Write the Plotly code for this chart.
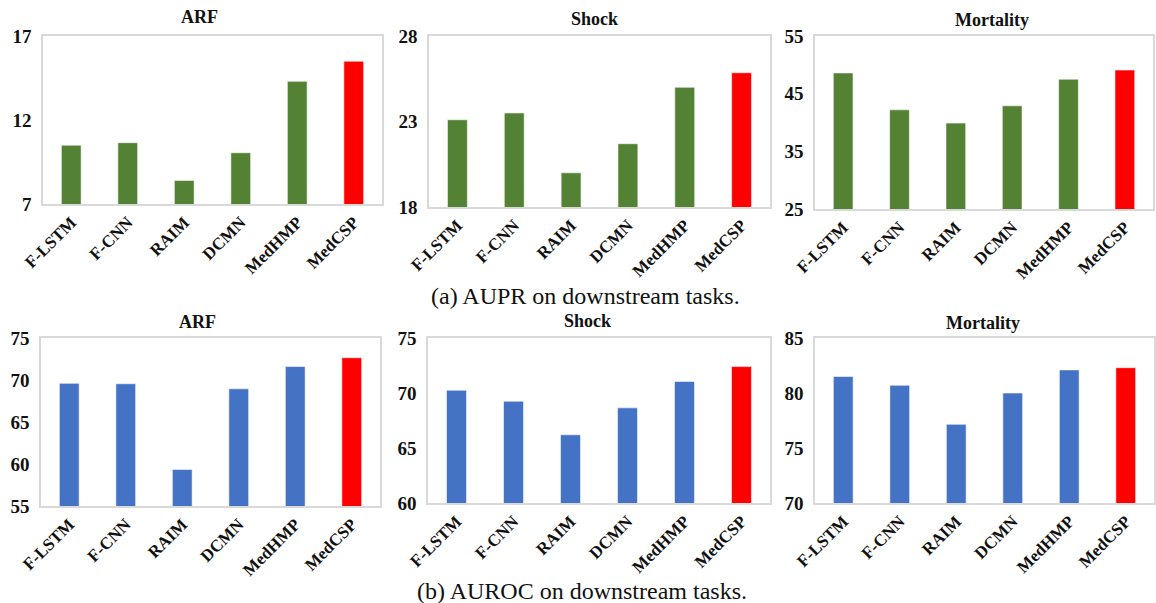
import plotly.graph_objects as go

methods = ["F-LSTM", "F-CNN", "RAIM", "DCMN", "MedHMP", "MedCSP"]

aupr_arf = [10.5, 10.65, 8.4, 10.05, 14.3, 15.5]
aupr_shock = [23.1, 23.5, 20.0, 21.7, 25.0, 25.85]
aupr_mort = [48.6, 42.2, 39.9, 42.9, 47.5, 49.1]

auroc_arf = [69.6, 69.55, 59.35, 68.95, 71.6, 72.65]
auroc_shock = [70.25, 69.25, 66.2, 68.65, 71.05, 72.4]
auroc_mort = [81.5, 80.7, 77.15, 80.0, 82.1, 82.3]

titles = ["ARF", "Shock", "Mortality", "ARF", "Shock", "Mortality"]
series = [aupr_arf, aupr_shock, aupr_mort, auroc_arf, auroc_shock, auroc_mort]
ranges = [[7, 17], [18, 28], [25, 55], [55, 75], [60, 75], [70, 85]]
tickvals = [[7, 12, 17], [18, 23, 28], [25, 35, 45, 55],
            [55, 60, 65, 70, 75], [60, 65, 70, 75], [70, 75, 80, 85]]
base_colors = ["#548235"] * 3 + ["#4472C4"] * 3
captions = ["(a) AUPR on downstream tasks.", "(b) AUROC on downstream tasks."]

W, H = 1156, 603
# plot areas in pixels: (x0, x1, y0, y1) with y from top
boxes = [(43, 382, 36, 204), (429, 770, 36, 207), (815, 1153, 36, 209),
         (41, 380, 338, 506), (428, 770, 338, 503), (815, 1154, 338, 503)]
title_pos = [(200, 17), (595, 19), (992, 20), (197, 322), (587, 321), (983, 323)]

fig = go.Figure()
layout = {}
serif = "Times New Roman, Liberation Serif, serif"
for i in range(6):
    n = "" if i == 0 else str(i + 1)
    colors = [base_colors[i]] * 5 + ["#FF0000"]
    fig.add_trace(go.Bar(
        x=methods, y=series[i],
        marker=dict(color=colors, line=dict(color="rgba(255,255,255,0.55)", width=1)),
        xaxis="x" + n, yaxis="y" + n, showlegend=False, hoverinfo="skip",
    ))
    x0, x1, y0, y1 = boxes[i]
    layout["xaxis" + n] = dict(
        domain=[x0 / W, x1 / W], anchor="y" + n, tickangle=-45, automargin=False,
        showline=True, mirror=True, linecolor="#d9d9d9", linewidth=1.5,
        ticks="", showgrid=False,
        tickvals=methods, ticktext=["<b>%s</b>" % m for m in methods],
        tickfont=dict(family=serif, size=17, color="#111"),
    )
    layout["yaxis" + n] = dict(
        domain=[1 - y1 / H, 1 - y0 / H], anchor="x" + n, automargin=False,
        range=ranges[i], tickvals=tickvals[i], ticktext=["<b>%d</b>" % v for v in tickvals[i]],
        showline=True, mirror=True, linecolor="#d9d9d9", linewidth=1.5,
        ticks="", showgrid=False, zeroline=False, ticklabelstandoff=6,
        tickfont=dict(family=serif, size=19, color="#111"),
    )
    fig.add_annotation(x=title_pos[i][0] / W, y=1 - title_pos[i][1] / H,
                       xref="paper", yref="paper", showarrow=False,
                       xanchor="center", yanchor="middle",
                       text="<b>%s</b>" % titles[i],
                       font=dict(family=serif, size=18, color="#111"))

fig.update_layout(**layout)

fig.add_annotation(x=585 / W, y=1 - 296 / H, xref="paper", yref="paper", showarrow=False,
                   xanchor="center", yanchor="middle",
                   text=captions[0], font=dict(family=serif, size=24, color="#111"))
fig.add_annotation(x=582 / W, y=1 - 591 / H, xref="paper", yref="paper", showarrow=False,
                   xanchor="center", yanchor="middle",
                   text=captions[1], font=dict(family=serif, size=24, color="#111"))

fig.update_layout(width=W, height=H, margin=dict(l=0, r=0, t=0, b=0, autoexpand=False),
                  paper_bgcolor="white", plot_bgcolor="white", bargap=0.65,
                  font=dict(family=serif))
fig.write_html("out.html", config={"displayModeBar": False},
               post_script="document.body.style.margin='0';document.body.style.overflow='hidden';")
